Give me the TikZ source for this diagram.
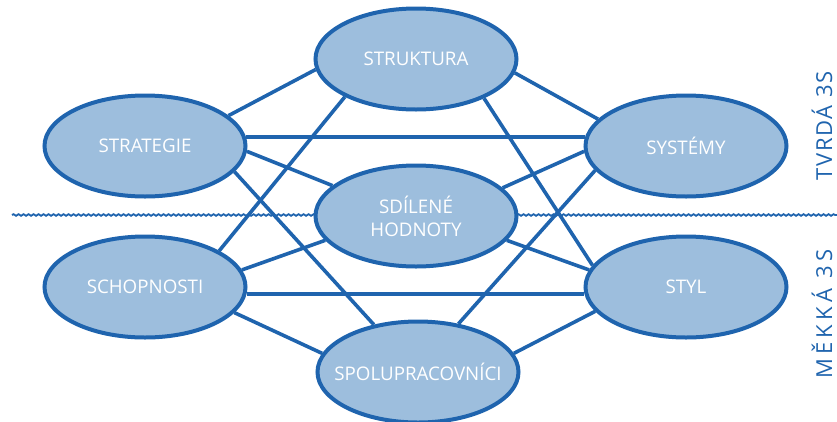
\documentclass[tikz,border=0pt]{standalone}
\usepackage{fontspec}
\setmainfont{Open Sans}
\newfontfamily\tvrdafont[LetterSpace=8]{Open Sans}
\newfontfamily\mekkafont[LetterSpace=20]{Open Sans}
\usetikzlibrary{shapes.geometric,decorations.pathmorphing,backgrounds}
\definecolor{sevblue}{RGB}{31,100,174}
\definecolor{sevfill}{RGB}{157,190,221}

\begin{document}
\begin{tikzpicture}[x=1pt,y=-1pt,
    sev/.style={ellipse, draw=sevblue, fill=sevfill, line width=4pt,
      minimum width=201pt, minimum height=101pt, inner xsep=-30pt, inner ysep=0pt,
      text=white, align=center, font=\fontsize{18.75}{23}\selectfont},
    link/.style={draw=sevblue, line width=3.6pt},
    side/.style={rotate=90, anchor=base, text=sevblue,
      font=\fontsize{22}{24}\selectfont}]
  \useasboundingbox (0,0) rectangle (837,421);
  \node[sev] (struk) at (416,59) {STRUKTURA};
  \node[sev] (strat) at (145,146) {STRATEGIE};
  \node[sev] (sys) at (686,146) {SYSTÉMY};
  \node[sev] (sdil) at (416,216) {SDÍLENÉ\\HODNOTY};
  \node[sev] (schop) at (145,287) {SCHOPNOSTI};
  \node[sev] (styl) at (686,287) {STYL};
  \node[sev] (spolu) at (418,372) {SPOLUPRACOVNÍCI};
  \node[side] (tvrda) at (832,126) {\tvrdafont TVRDÁ 3S};
  \node[side] (mekka) at (832,314) {\mekkafont MĚKKÁ 3S};
  \coordinate (divL) at (12,215);
  \coordinate (divR) at (837,215);
  \begin{scope}[on background layer]
    \draw[sevblue, line width=1.8pt, decorate,
      decoration={snake, segment length=5pt, amplitude=0.8pt}] (divL) -- (divR);
    % hard 3S
    \draw[link] (strat.20) -- (struk.186);
    \draw[link] (strat.5) -- (sys.175);
    \draw[link] (strat.-3) -- (sdil.160);
    \draw[link] (strat.-16) -- (spolu.133);
    \draw[link] (struk.208) -- (schop.26);
    \draw[link] (struk.-8) -- (sys.163);
    \draw[link] (struk.-30) -- (styl.167);
    \draw[link] (sys.183) -- (sdil.18);
    \draw[link] (sys.195) -- (spolu.50);
    % soft 3S
    \draw[link] (sdil.195) -- (schop.10);
    \draw[link] (sdil.-15) -- (styl.170);
    \draw[link] (schop.-4) -- (styl.184);
    \draw[link] (schop.-16) -- (spolu.169);
    \draw[link] (styl.195) -- (spolu.11);
  \end{scope}
\end{tikzpicture}
\end{document}
